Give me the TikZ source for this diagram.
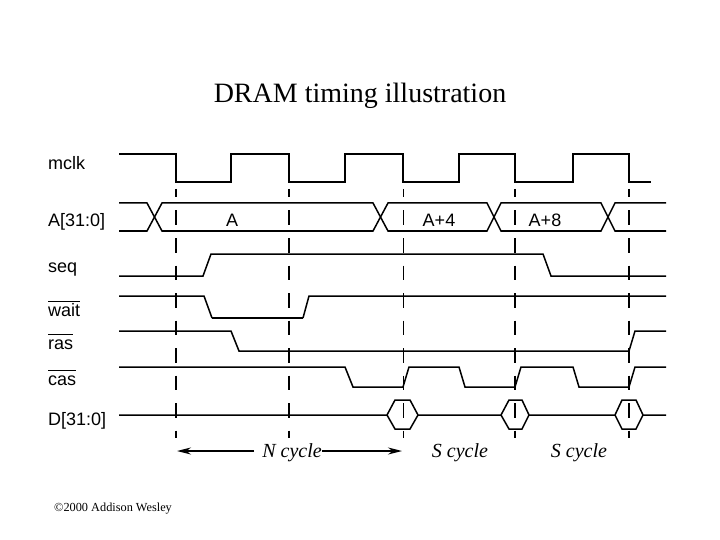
\documentclass[tikz,border=0pt]{standalone}
\usepackage{fontspec}
\setmainfont{Liberation Serif}
\setsansfont{Liberation Sans}
\usetikzlibrary{arrows.meta}
\tikzset{
  sigline/.style={line width=1.5pt},
  cycleline/.style={line width=1.7pt, dash pattern=on 14.5pt off 13pt, dash phase=6pt},
  siglabel/.style={anchor=base west, inner sep=0pt, font=\sffamily\fontsize{18}{18}\selectfont},
  buslabel/.style={anchor=base, inner sep=0pt, font=\sffamily\fontsize{18}{18}\selectfont},
  cyclelabel/.style={anchor=base, inner sep=0pt, font=\itshape\fontsize{20}{20}\selectfont},
  cyclearrow/.style={line width=1.5pt, -{Stealth[length=14pt,width=7pt]}}
}
\newcommand{\ovl}[1]{$\overline{\mbox{\rule{0pt}{13.5pt}#1}}$}
\begin{document}
\begin{tikzpicture}[x=1pt, y=-1pt]
  \useasboundingbox (0,0) rectangle (720,540);

  % Title and copyright
  \node[anchor=base, inner sep=0pt, font=\fontsize{28}{28}\selectfont] (title) at (360,103) {DRAM timing illustration};
  \node[anchor=base west, inner sep=0pt, font=\fontsize{12.3}{12.3}\selectfont] (copy) at (54,511) {\textcopyright 2000 Addison Wesley};

  % Signal names
  \node[siglabel] (mclk) at (48,170) {mclk};
  \node[siglabel] (addr) at (48,226) {A[31:0]};
  \node[siglabel] (seq) at (48,272) {seq};
  \node[siglabel] (wait) at (48,316) {\ovl{wait}};
  \node[siglabel] (ras) at (48,349) {\ovl{ras}};
  \node[siglabel] (cas) at (48,385) {\ovl{cas}};
  \node[siglabel] (data) at (48,425) {D[31:0]};

  % Cycle boundaries
  \foreach \x in {176,289,515,629}
    \draw[cycleline] (\x,189) -- (\x,438);
  \draw[cycleline, line width=0.8pt] (403,189) -- (403,438);

  % Clock
  \draw[sigline] (119,154) -- (176,154) -- (176,182) -- (231,182) -- (231,154) -- (289,154) -- (289,182)
    -- (345,182) -- (345,154) -- (403,154) -- (403,182) -- (459,182) -- (459,154) -- (515,154)
    -- (515,182) -- (573,182) -- (573,154) -- (629,154) -- (629,182) -- (651,182);

  % Address bus
  \draw[sigline] (119,203) -- (147,203) -- (162,231) -- (373,231) -- (388,203) -- (487,203) -- (501,231)
    -- (601,231) -- (615,203) -- (666,203);
  \draw[sigline] (119,231) -- (147,231) -- (162,203) -- (373,203) -- (388,231) -- (487,231) -- (501,203)
    -- (601,203) -- (615,231) -- (666,231);
  \node[buslabel] (busa) at (232,226) {A};
  \node[buslabel] (busb) at (439,226) {A+4};
  \node[buslabel] (busc) at (545,226) {A+8};

  % Control lines
  \draw[sigline] (119,276) -- (203,276) -- (211,254) -- (543,254) -- (551,276) -- (666,276);
  \draw[sigline] (119,296) -- (204,296) -- (212,318);
  \draw[line width=2pt] (212,318) -- (303,318);
  \draw[sigline] (303,318) -- (309,296) -- (666,296);
  \draw[sigline] (119,331) -- (231,331) -- (239,351) -- (629,351) -- (635,331) -- (666,331);
  \draw[sigline] (119,367) -- (345,367) -- (353,387) -- (403,387) -- (409,367) -- (459,367) -- (465,387)
    -- (515,387) -- (521,367) -- (573,367) -- (579,387) -- (629,387) -- (635,367) -- (666,367);

  % Data bus
  \draw[sigline] (119,415) -- (387,415) -- (395,400) -- (410,400) -- (418,415) -- (501,415) -- (509,400)
    -- (522,400) -- (529,415) -- (615,415) -- (622,400) -- (636,400) -- (643,415) -- (666,415);
  \draw[sigline] (387,415) -- (395,429) -- (410,429) -- (418,415);
  \draw[sigline] (501,415) -- (509,429) -- (522,429) -- (529,415);
  \draw[sigline] (615,415) -- (622,429) -- (636,429) -- (643,415);

  % Cycle names
  \coordinate (nstart) at (177,451);
  \coordinate (nend) at (402,451);
  \node[cyclelabel] (ncycle) at (292,457) {N cycle};
  \node[cyclelabel] (scyclea) at (460,457) {S cycle};
  \node[cyclelabel] (scycleb) at (579,457) {S cycle};
  \draw[cyclearrow, shorten <=8pt] (ncycle.west |- nstart) -- (nstart);
  \draw[cyclearrow] (ncycle.east |- nend) -- (nend);
\end{tikzpicture}
\end{document}
